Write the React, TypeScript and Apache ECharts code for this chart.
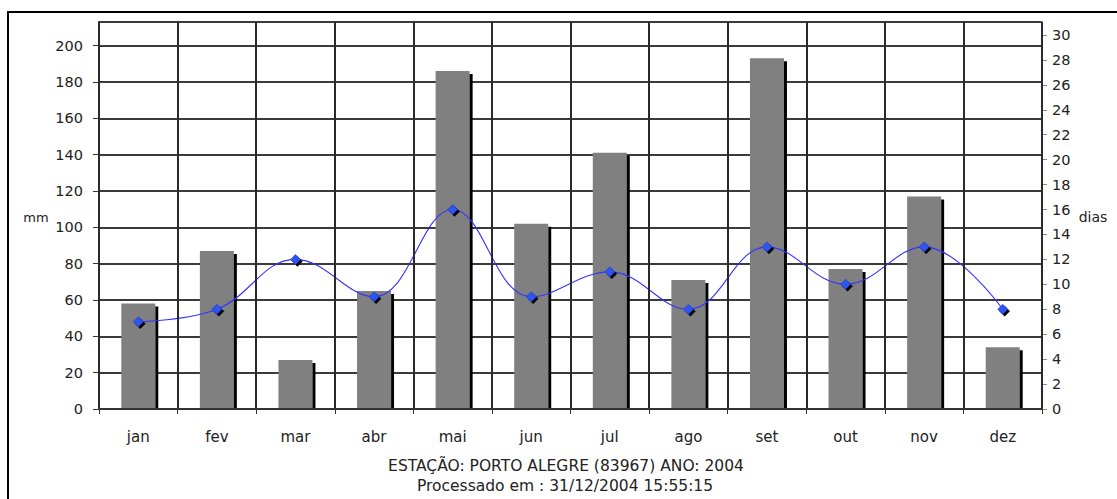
import React, { useEffect, useRef } from "react";
import * as echarts from "echarts";

const months = ["jan", "fev", "mar", "abr", "mai", "jun", "jul", "ago", "set", "out", "nov", "dez"];
const rainMm = [58, 87, 27, 65, 186, 102, 141, 71, 193, 77, 117, 34];
const rainDays = [7, 8, 12, 9, 16, 9, 11, 8, 13, 10, 13, 8];
const titleLine1 = "ESTAÇÃO: PORTO ALEGRE (83967) ANO: 2004";
const titleLine2 = "Processado em : 31/12/2004 15:55:15";
const leftAxisName = "mm";
const rightAxisName = "dias";

const FONT = "'DejaVu Sans', Verdana, sans-serif";

export default function App() {
  const ref = useRef<HTMLDivElement>(null);
  useEffect(() => {
    document.body.style.margin = "0";
    if (!ref.current) return;
    const chart = echarts.init(ref.current, undefined, { renderer: "svg" });
    chart.setOption({
      animation: false,
      backgroundColor: "#ffffff",
      grid: {
        left: 99,
        right: 75,
        top: 22,
        bottom: 90,
        show: true,
        borderColor: "#8a8a8a",
        borderWidth: 1,
      },
      xAxis: {
        type: "category",
        data: months,
        boundaryGap: true,
        z: 10,
        axisLine: { show: true, lineStyle: { color: "#333", width: 2 } },
        axisTick: { show: true, length: 5, lineStyle: { color: "#333", width: 1 } },
        splitLine: { show: true, lineStyle: { color: "#2a2a2a", width: 2 } },
        axisLabel: { color: "#222", fontFamily: FONT, fontSize: 15, margin: 20 },
      },
      yAxis: [
        {
          type: "value",
          min: 0,
          max: 213,
          interval: 20,
          position: "left",
          axisLine: { show: true, lineStyle: { color: "#333", width: 2 } },
          axisTick: { show: true, length: 6, lineStyle: { color: "#333" } },
          splitLine: { show: true, lineStyle: { color: "#3a3a3a", width: 2 } },
          axisLabel: {
            color: "#222",
            fontFamily: FONT,
            fontSize: 14.5,
            margin: 16,
            showMaxLabel: false,
          },
        },
        {
          type: "value",
          min: 0,
          max: 31.04,
          interval: 2,
          position: "right",
          axisLine: { show: true, lineStyle: { color: "#8a8a8a", width: 2 } },
          axisTick: { show: true, length: 5, lineStyle: { color: "#8a8a8a" } },
          splitLine: { show: false },
          axisLabel: {
            color: "#222",
            fontFamily: FONT,
            fontSize: 14.5,
            margin: 10,
            showMaxLabel: false,
          },
        },
      ],
      series: [
        {
          type: "bar",
          name: "mm",
          data: rainMm,
          yAxisIndex: 0,
          barWidth: 34,
          itemStyle: {
            color: "#808080",
            shadowColor: "#000000",
            shadowOffsetX: 3,
            shadowOffsetY: 3,
            shadowBlur: 0,
          },
          z: 2,
        },
        {
          type: "line",
          name: "dias",
          data: rainDays,
          yAxisIndex: 1,
          smooth: 0.4,
          symbol: "diamond",
          symbolSize: 10,
          lineStyle: { color: "#3434ff", width: 1.1 },
          itemStyle: {
            color: "#2f55f0",
            borderColor: "#1a2fc0",
            borderWidth: 0.5,
            shadowColor: "#000000",
            shadowOffsetX: 2,
            shadowOffsetY: 2,
            shadowBlur: 0,
          },
          z: 3,
        },
      ],
      graphic: [
        {
          type: "rect",
          z: 5,
          shape: { x: 100, y: 410, width: 941, height: 6 },
          style: { fill: "#ffffff" },
          silent: true,
        },
        {
          type: "rect",
          shape: { x: 8, y: 12, width: 1200, height: 600 },
          style: { fill: "none", stroke: "#000", lineWidth: 2 },
          silent: true,
        },
        {
          type: "text",
          x: 36,
          y: 217,
          style: {
            text: leftAxisName,
            font: `13px ${FONT}`,
            fill: "#222",
            align: "center",
            verticalAlign: "middle",
          },
        },
        {
          type: "text",
          x: 1093,
          y: 217,
          style: {
            text: rightAxisName,
            font: `14px ${FONT}`,
            fill: "#222",
            align: "center",
            verticalAlign: "middle",
          },
        },
        {
          type: "text",
          x: 566,
          y: 466,
          style: {
            text: titleLine1,
            font: `15.5px ${FONT}`,
            fill: "#222",
            align: "center",
            verticalAlign: "middle",
          },
        },
        {
          type: "text",
          x: 565,
          y: 486,
          style: {
            text: titleLine2,
            font: `15.5px ${FONT}`,
            fill: "#222",
            align: "center",
            verticalAlign: "middle",
          },
        },
      ],
    });
    return () => chart.dispose();
  }, []);
  return <div ref={ref} style={{ width: 1117, height: 499 }} />;
}
